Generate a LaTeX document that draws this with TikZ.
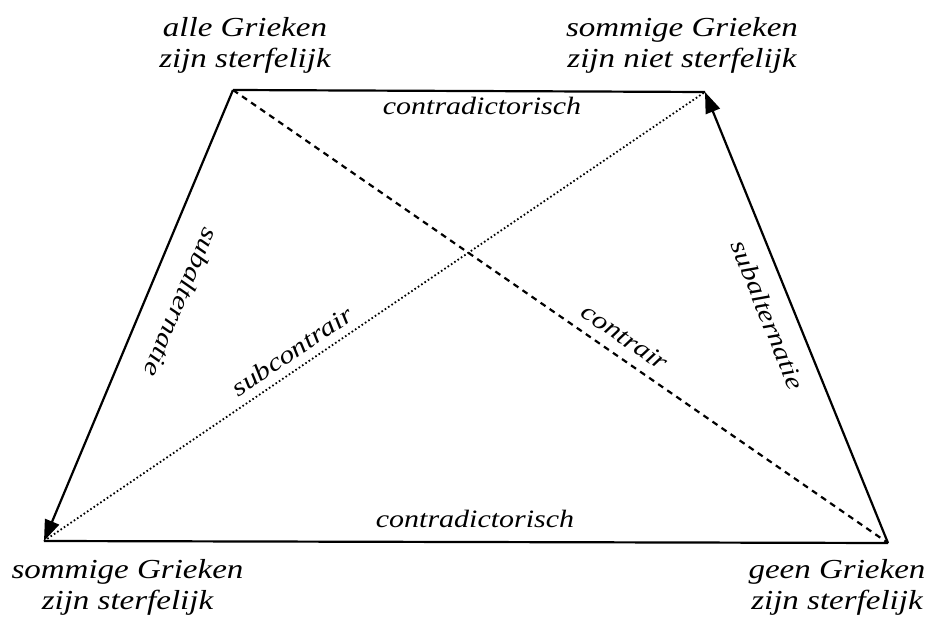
\documentclass[tikz,border=0pt]{standalone}
\usepackage{fontspec}
\usepackage{graphicx}
\setmainfont{Liberation Serif}
\usetikzlibrary{arrows.meta}
\newcommand\widetxt[1]{\scalebox{1.2}[1]{#1}}
\begin{document}
\begin{tikzpicture}[x=1pt,y=1pt,
  edge/.style={line width=2.2pt},
  dashedge/.style={line width=2.2pt, dash pattern=on 6pt off 5pt},
  dotedge/.style={line width=1.8pt, dash pattern=on 1.6pt off 2.4pt},
  tip/.style={-{Triangle[length=21pt,width=15pt]}},
  corner/.style={font=\fontsize{27.5}{31}\selectfont\itshape, align=center, inner sep=0pt},
  rel/.style={font=\fontsize{25}{28}\selectfont\itshape, inner sep=0pt}]
\useasboundingbox (0,0) rectangle (938,619);
\coordinate (TL) at (233,529);
\coordinate (TR) at (705,527);
\coordinate (BL) at (44,78);
\coordinate (BR) at (888,76);
% corner texts
\node[corner] (tl) at (245,573.5) {\widetxt{alle Grieken}\\\widetxt{zijn sterfelijk}};
\node[corner] (tr) at (682,573.5) {\widetxt{sommige Grieken}\\\widetxt{zijn niet sterfelijk}};
\node[corner] (bl) at (127.5,32) {\widetxt{sommige Grieken}\\\widetxt{zijn sterfelijk}};
\node[corner] (br) at (837,32) {\widetxt{geen Grieken}\\\widetxt{zijn sterfelijk}};
% connectors
\draw[edge] (TL) -- (TR);
\draw[edge] (BL) -- (BR);
\draw[edge,tip] (TL) -- (BL);
\draw[edge,tip] (BR) -- (TR);
\draw[dashedge] (TL) -- (BR);
\draw[dotedge] (BL) -- (TR);
% relation labels
\node[rel, anchor=base] (c1) at (482,504) {\widetxt{contradictorisch}};
\node[rel, anchor=base] (c2) at (475,91) {\widetxt{contradictorisch}};
\node[rel, rotate=-112.8] (s1) at (182,316) {\widetxt{subalternatie}};
\node[rel, rotate=-67.9] (s2) at (768,304) {\widetxt{subalternatie}};
\node[rel, rotate=34.1] (sc) at (292,268) {\widetxt{subcontrair}};
\node[rel, rotate=-34.6] (ct) at (625,282) {\widetxt{contrair}};
\end{tikzpicture}
\end{document}
